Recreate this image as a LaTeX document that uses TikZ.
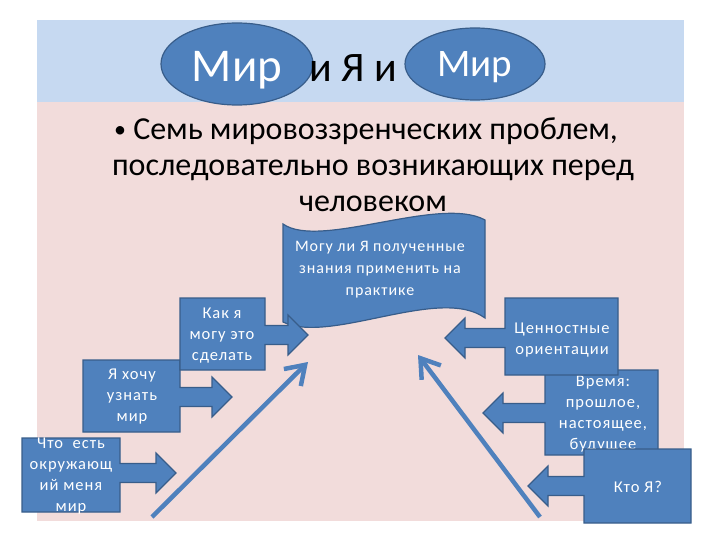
\documentclass[tikz,border=0pt]{standalone}
\usepackage{fontspec}
\setmainfont{Carlito}
\newfontfamily\callfont[LetterSpace=6]{Carlito}
\usetikzlibrary{arrows.meta,shapes.geometric}
\definecolor{bandblue}{HTML}{C6D9F1}
\definecolor{bodypink}{HTML}{F2DCDB}
\definecolor{shapeblue}{HTML}{4F81BD}
\definecolor{edgeblue}{HTML}{385D8A}
\tikzset{
  blueshape/.style={fill=shapeblue, draw=edgeblue, line width=1.2pt},
  mirnode/.style={blueshape, ellipse, inner sep=0pt, text=white, text depth=0pt},
  calltext/.style={text=white, align=center, inner sep=0pt, font=\callfont\fontsize{16.5}{21}\selectfont},
  bigarrow/.style={line width=4.5pt, color=shapeblue, -{Straight Barb[length=18pt,width=24pt]}},
}
% box (x1,y1)-(x2,y2), arrow tip (tx,ty)
\def\rcallout(#1,#2)(#3,#4)(#5,#6){\draw[blueshape] (#1,#2) -- (#3,#2) -- (#3,#6-9.5) -- (#5-20,#6-9.5) -- (#5-20,#6-20) -- (#5,#6) -- (#5-20,#6+20) -- (#5-20,#6+9.5) -- (#3,#6+9.5) -- (#3,#4) -- (#1,#4) -- cycle;}
\def\lcallout(#1,#2)(#3,#4)(#5,#6){\draw[blueshape] (#1,#2) -- (#3,#2) -- (#3,#4) -- (#1,#4) -- (#1,#6+9.5) -- (#5+20,#6+9.5) -- (#5+20,#6+20) -- (#5,#6) -- (#5+20,#6-20) -- (#5+20,#6-9.5) -- (#1,#6-9.5) -- cycle;}

\begin{document}
\begin{tikzpicture}[x=1pt, y=-1pt]
	\useasboundingbox (0,0) rectangle (720,540);
	
	%%%%% slide %%%%%
	\fill[bodypink] (37,20) rectangle (684,521);
	\fill[bandblue] (37,20) rectangle (684,102);
	
	\node[mirnode, minimum width=152pt, minimum height=82pt, text height=36pt, font=\fontsize{47}{52}\selectfont] (mirleft) at (237,64) {Мир};
	\node[mirnode, minimum width=140pt, minimum height=72pt, text height=26pt, font=\fontsize{39}{45}\selectfont] (mirright) at (475,64) {Мир};
	\node[anchor=base, inner sep=0pt, font=\fontsize{42}{48}\selectfont] (ija) at (353,82) {и Я и};
	
	\node[align=center, inner sep=0pt, font=\fontsize{32}{36}\selectfont] (problems) at (373,165)
		{{\fontsize{24}{36}\selectfont\raisebox{2pt}{•}}\ Семь мировоззренческих проблем,\rule{14pt}{0pt}\\последовательно возникающих перед\\человеком};
	
	%%%%% scroll %%%%%
	\draw[blueshape] (283,224) .. controls (320,250) and (440,195) .. (485,220) -- (485,318)
		.. controls (440,285) and (330,345) .. (283,322) -- cycle;
	\node[calltext, font=\callfont\fontsize{16}{22}\selectfont] (prakt) at (380,270) {Могу ли Я полученные\\знания применить на\\практике};
	
	%%%%% left callouts %%%%%
	\rcallout(22,438)(120,512)(176,473)
	\node[calltext] (chto) at (71,476) {Что\ \ есть\\окружающ\\ий меня\\мир};
	\rcallout(83,360)(180,432)(232,397)
	\node[calltext] (hochu) at (132,397) {Я хочу\\узнать\\мир};
	\rcallout(180,298)(265,370)(308,335)
	\node[calltext] (kak) at (222,336) {Как я\\могу это\\сделать};
	
	%%%%% right callouts %%%%%
	\lcallout(545,370)(658,455)(483,413)
	\node[calltext] (vremya) at (603,414) {Время:\\прошлое,\\настоящее,\\будущее};
	\lcallout(505,298)(618,375)(445,338)
	\node[calltext] (cenn) at (562,340) {Ценностные\\ориентации};
	\lcallout(584,449)(691,523)(528,486)
	\node[calltext] (kto) at (638,487) {Кто Я?};
	
	%%%%% long arrows %%%%%
	\coordinate (lfoot) at (152,517);
	\coordinate (ltip) at (308,362);
	\coordinate (rfoot) at (540,517);
	\coordinate (rtip) at (418,355);
	\draw[bigarrow] (lfoot) -- (ltip);
	\draw[bigarrow] (rfoot) -- (rtip);
\end{tikzpicture}
\end{document}
